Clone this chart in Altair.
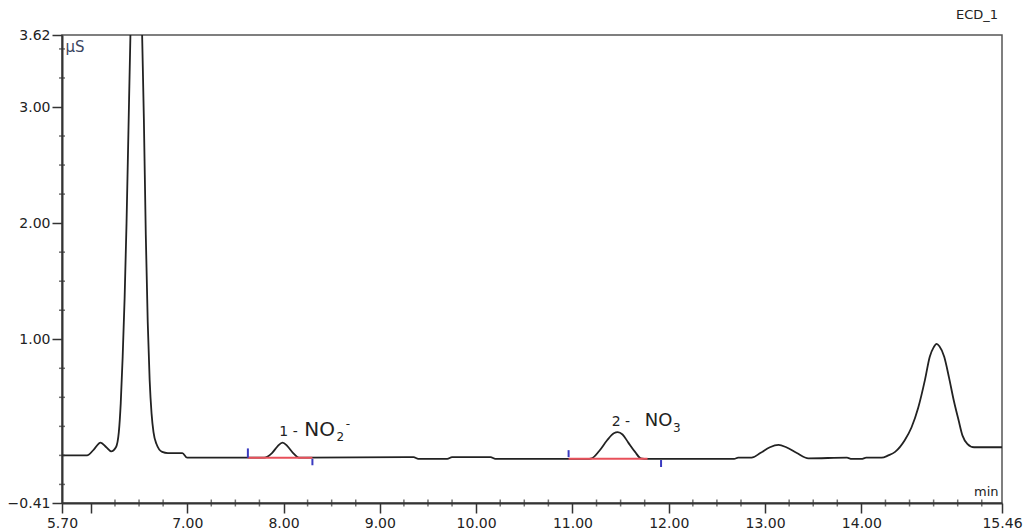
import altair as alt
import pandas as pd

# ---- chromatogram trace (time in min, conductivity in µS) ----
time_min = [5.70, 5.96, 6.03, 6.10, 6.16, 6.21, 6.26, 6.29, 6.31, 6.33, 6.35, 6.37, 6.39,
            6.41, 6.45, 6.48, 6.51, 6.53, 6.55, 6.57, 6.59, 6.61, 6.63, 6.65, 6.68, 6.74,
            6.80, 6.95, 7.00, 7.80, 7.88, 7.94, 7.99, 8.04, 8.10, 8.16, 9.35, 9.40, 9.70,
            9.75, 10.15, 10.20, 11.15, 11.20, 11.28, 11.36, 11.43, 11.47, 11.52, 11.58,
            11.65, 11.71, 11.78, 12.68, 12.72, 12.86, 12.95, 13.05, 13.14, 13.22, 13.33,
            13.45, 13.85, 13.90, 14.00, 14.05, 14.21, 14.28, 14.35, 14.45, 14.52, 14.59,
            14.66, 14.71, 14.75, 14.78, 14.81, 14.86, 14.91, 14.96, 15.01, 15.05, 15.10,
            15.17, 15.46]
signal_us = [0.00, 0.00, 0.05, 0.11, 0.07, 0.035, 0.07, 0.20, 0.45, 0.85, 1.35, 2.00, 2.80,
             3.60, 4.60, 4.90, 4.60, 3.70, 2.90, 1.90, 1.15, 0.65, 0.36, 0.20, 0.10, 0.03,
             0.02, 0.02, -0.02, -0.02, 0.02, 0.08, 0.11, 0.08, 0.02, -0.02, -0.015, -0.03, -0.03,
             -0.015, -0.015, -0.03, -0.03, -0.025, 0.04, 0.13, 0.19, 0.20, 0.18, 0.11,
             0.03, -0.025, -0.03, -0.03, -0.02, -0.02, 0.02, 0.07, 0.09, 0.07, 0.02,
             -0.025, -0.02, -0.03, -0.03, -0.02, -0.02, 0.00, 0.03, 0.13, 0.24, 0.41,
             0.65, 0.85, 0.93, 0.96, 0.94, 0.85, 0.67, 0.47, 0.30, 0.17, 0.10,
             0.07, 0.07]

# ---- integration baselines (red) and peak start / end markers (blue) ----
base_start = [7.63, 10.96]
base_end = [8.30, 11.78]
base_level = [-0.02, -0.03]
marker_t = [7.63, 8.30, 10.96, 11.92]
marker_lo = [-0.02, -0.085, -0.015, -0.04]
marker_hi = [0.06, -0.03, 0.045, -0.10]

# ---- peak annotations ----
ann_text = ["1 -", "NO", "2", "-", "2 -", "NO", "3"]
ann_t = [7.956, 8.216, 8.55, 8.645, 11.407, 11.75, 12.045]
ann_v = [0.198, 0.216, 0.155, 0.27, 0.284, 0.293, 0.233]
ann_size = [14, 20, 12, 12, 14, 18, 12]

# ---- axes ----
x_major = [5.70, 6.00, 7.00, 8.00, 9.00, 10.00, 11.00, 12.00, 13.00, 14.00, 15.46]
x_labelled = [5.70, 7.00, 8.00, 9.00, 10.00, 11.00, 12.00, 13.00, 14.00, 15.46]
x_minor = [6.25, 6.50, 6.75, 7.25, 7.50, 7.75, 8.25, 8.50, 8.75, 9.25, 9.50, 9.75,
           10.25, 10.50, 10.75, 11.25, 11.50, 11.75, 12.25, 12.50, 12.75, 13.25, 13.50,
           13.75, 14.25, 14.50, 14.75, 15.00, 15.25]
y_major = [-0.41, 1.00, 2.00, 3.00, 3.62]
y_minor = [-0.25, 0.00, 0.25, 0.50, 0.75, 1.25, 1.50, 1.75, 2.25, 2.50, 2.75, 3.25, 3.50]
x_domain = [5.70, 15.46]
y_domain = [-0.41, 3.62]

W, H = 940, 468
FONT = "DejaVu Sans"

trace = pd.DataFrame({"t": time_min, "v": signal_us})
bases = pd.DataFrame({"t": base_start, "t2": base_end, "v": base_level})
markers = pd.DataFrame({"t": marker_t, "v": marker_lo, "hi": marker_hi})
ann = pd.DataFrame({"t": ann_t, "v": ann_v, "label": ann_text, "size": ann_size})
xmin_df = pd.DataFrame({"t": x_minor})
ymin_df = pd.DataFrame({"v": y_minor})

xs = alt.Scale(domain=x_domain, nice=False, zero=False)
ys = alt.Scale(domain=y_domain, nice=False, zero=False)

common_axis = dict(
    grid=False, labelFont=FONT, labelFontSize=14, labelColor="#222",
    tickColor="#333", tickWidth=1.5, domainColor="#333", domainWidth=2,
    labelFlush=False, labelOverlap=False, titleFont=FONT, titleFontWeight="normal",
    titleAngle=0, titleBaseline="middle",
)

lab_list = ",".join(str(v) for v in x_labelled)
x_axis = alt.Axis(
    values=x_major, title="min", titleFontSize=13, titleColor="#222",
    titleAlign="right", titleX=W - 4, titleY=-12,
    labelExpr=f"indexof([{lab_list}], datum.value) >= 0 ? format(datum.value, '.2f') : ''",
    tickSize=10, labelPadding=3, **common_axis,
)
y_axis = alt.Axis(
    values=y_major, format=".2f", title="µS", titleFontSize=15, titleColor="#3a4560",
    titleAlign="left", titleX=3, titleY=11,
    tickSize=10, labelPadding=2, **common_axis,
)

X = alt.X("t:Q", scale=xs, axis=x_axis)
Y = alt.Y("v:Q", scale=ys, axis=y_axis)

line = alt.Chart(trace).mark_line(color="#222", strokeWidth=1.8, clip=True,
                                  interpolate="monotone").encode(x=X, y=Y)

red = alt.Chart(bases).mark_rule(color="#e8505a", strokeWidth=2).encode(
    x=X, x2="t2:Q", y=Y,
)

blue = alt.Chart(markers).mark_rule(color="#3a3ac0", strokeWidth=2).encode(
    x=X, y=Y, y2="hi:Q",
)

labels = alt.Chart(ann).mark_text(align="left", baseline="middle", font=FONT,
                                  color="#222").encode(
    x=X, y=Y,
    text="label:N",
    size=alt.Size("size:Q", scale=None, legend=None),
)

xminor = alt.Chart(xmin_df).mark_tick(color="#333", thickness=1.5, size=7).encode(
    x=X, y=alt.value(H),
)
yminor = alt.Chart(ymin_df).mark_tick(color="#333", thickness=1.5, size=6).encode(
    y=Y, x=alt.value(0),
)

chart = alt.layer(line, red, blue, labels, xminor, yminor).properties(
    width=W, height=H, background="white",
    title=alt.TitleParams("ECD_1", anchor="end", frame="group", fontSize=13,
                          fontWeight="normal", font=FONT, color="#222", offset=6, dx=-4),
    autosize=alt.AutoSizeParams(type="none"),
    padding={"left": 62, "top": 35, "right": 21, "bottom": 28},
).configure_view(
    stroke="#555", strokeWidth=1.5,
)

chart.save("out.html", embed_options={"renderer": "svg", "actions": False})
